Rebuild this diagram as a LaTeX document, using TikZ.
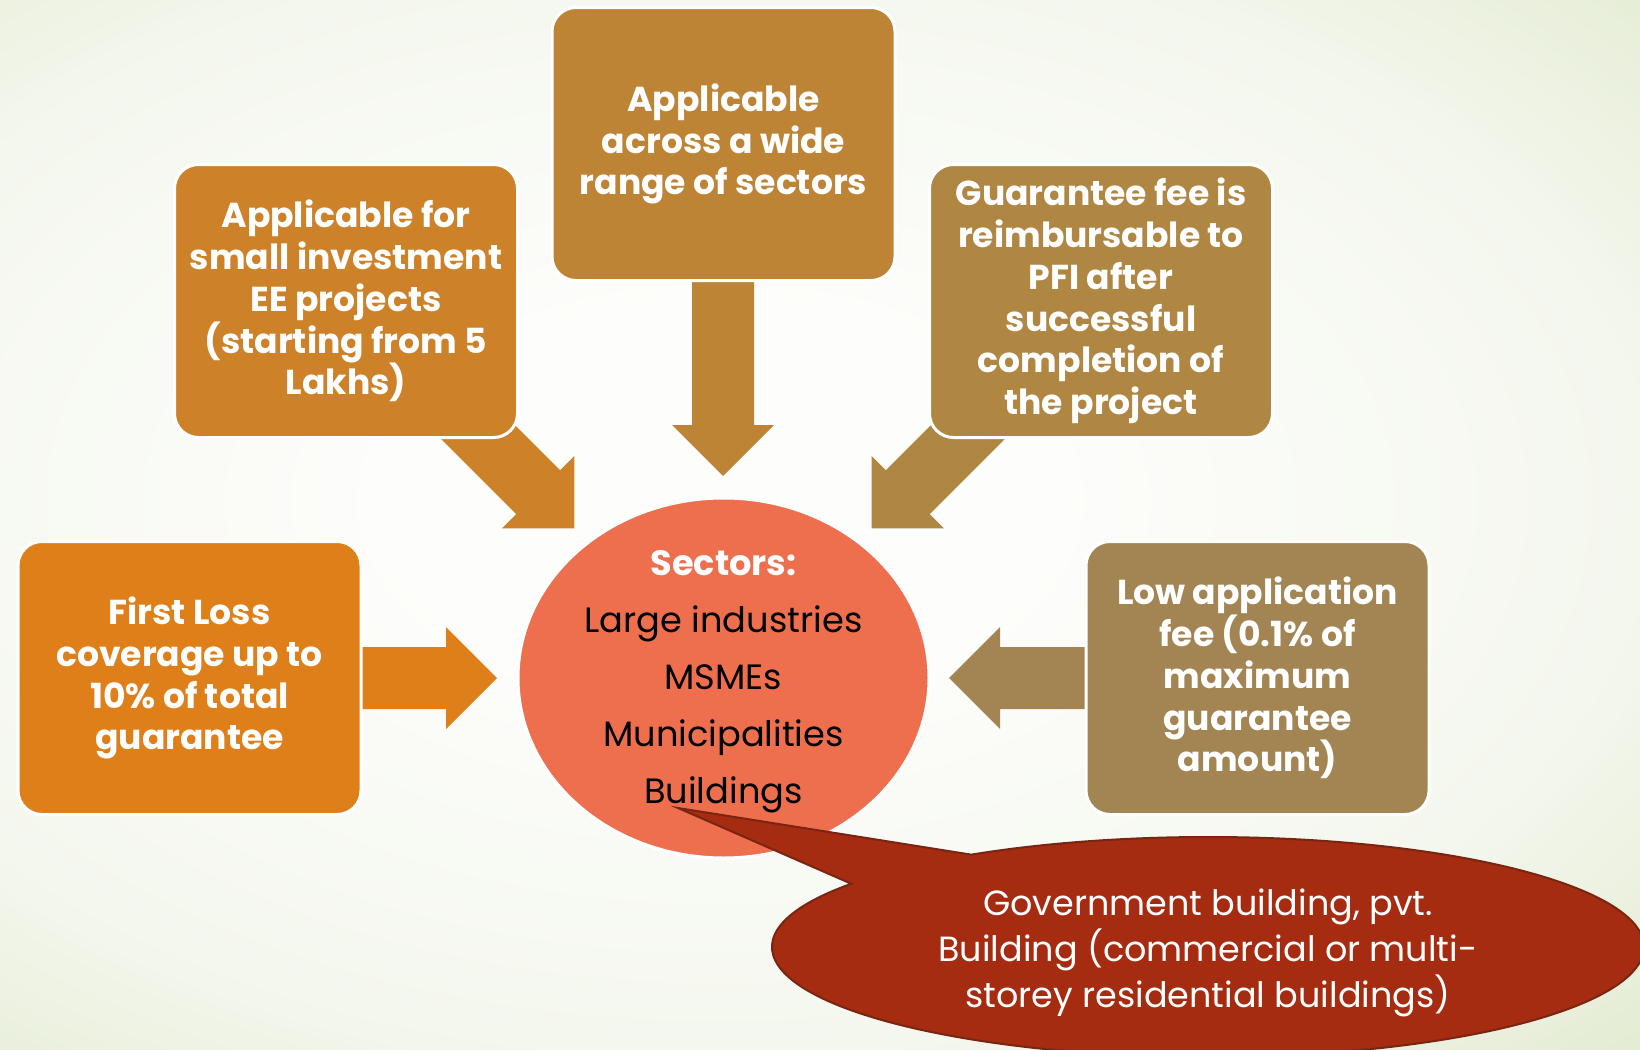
\documentclass[tikz,border=0pt]{standalone}
\usepackage{fontspec}
\setmainfont{Poppins}
\usetikzlibrary{positioning,shapes.geometric,shapes.callouts,calc}

\definecolor{bgin}{HTML}{FDFDFB}
\definecolor{bgmid}{HTML}{F4F7EE}
\definecolor{bgout}{HTML}{E3EBD1}
\definecolor{rangebrown}{HTML}{BE8436}
\definecolor{smallorange}{HTML}{CD822A}
\definecolor{pfibrown}{HTML}{B08643}
\definecolor{lossorange}{HTML}{DE7F1A}
\definecolor{feebrown}{HTML}{A28553}
\definecolor{sectorred}{HTML}{EE6F4E}
\definecolor{calloutred}{HTML}{A52C10}
\definecolor{calloutedge}{HTML}{7A2412}

\pgfdeclareradialshading{backdrop}{\pgfpoint{0bp}{0bp}}{color(0bp)=(bgin); color(9bp)=(bgin); color(25bp)=(bgmid); color(36bp)=(bgout); color(50bp)=(bgout)}

\newcommand\boxfont{\bfseries\fontsize{17.3}{20.9}\selectfont}
\newcommand\sectfont{\fontsize{17.6}{28.5}\selectfont}
\newcommand\govfont{\fontsize{17.5}{23}\selectfont}

% fat block arrow: start, angle, length, colour
\newcommand\fatarrow[4]{\fill[#4,shift={#1},rotate=#2] (0,-31) -- ({#3-51},-31) -- ({#3-51},-51) -- (#3,0) -- ({#3-51},51) -- ({#3-51},31) -- (0,31) -- cycle;}

\begin{document}
\begin{tikzpicture}[x=0.5pt,y=-0.5pt,node distance=267pt,on grid,
    infobox/.style={rectangle,rounded corners=12pt,draw=white,line width=1.5pt,
      minimum width=171.5pt,minimum height=136.5pt,align=center,text=white,font=\boxfont},
    sector/.style={ellipse,fill=sectorred,draw=white,line width=1.5pt,
      minimum width=205.5pt,minimum height=180pt,inner sep=0pt}]
  \useasboundingbox (0,0) rectangle (1640,1050);
  \clip (0,0) rectangle (1640,1050);
  \shade[shading=backdrop] (-200,-50) rectangle (1640,1050);

  % arrows first, boxes go on top
  \fatarrow{(723,270)}{-90}{206}{rangebrown}
  \fatarrow{(447,401)}{-45}{180}{smallorange}
  \fatarrow{(999,401)}{-135}{180}{pfibrown}
  \fatarrow{(340,678)}{0}{157}{lossorange}
  \fatarrow{(1100,678)}{180}{151}{feebrown}

  \node[sector] (sec) at (723.5,678) {};
  \node[infobox,fill=rangebrown] (range) [above=of sec] {Applicable\\across a wide\\range of sectors};
  \node[infobox,fill=smallorange] (small) [above left=188.5pt and 188.75pt of sec]
    {Applicable for\\small investment\\EE projects\\(starting from 5\\Lakhs)};
  \node[infobox,fill=pfibrown] (pfi) [above right=188.5pt and 188.75pt of sec]
    {Guarantee fee is\\reimbursable to\\PFI after\\successful\\completion of\\the project};
  \node[infobox,fill=lossorange] (loss) [left=of sec] {First Loss\\coverage up to\\10\% of total\\guarantee};
  \node[infobox,fill=feebrown] (fee) [right=of sec] {Low application\\fee (0.1\% of\\maximum\\guarantee\\amount)};

  \node[align=center,font=\sectfont] (secttext) at ($(sec.center)+(0,4)$)
    {\textcolor{white}{\bfseries Sectors:}\\Large industries\\MSMEs\\Municipalities\\Buildings};

  \coordinate (tip) at ($(sec.center)+(-45.5,130)$);
  \node[ellipse callout,fill=calloutred,draw=calloutedge,line width=1pt,
    minimum width=436pt,minimum height=110pt,inner sep=0pt,
    callout absolute pointer={(tip)},callout pointer arc=22] (gov) at (1208,947) {};
  \node[align=center,text=white,font=\govfont] (govtext) at ($(gov.center)+(0,6)$)
    {Government building, pvt.\\Building (commercial or multi-\\storey residential buildings)};
\end{tikzpicture}
\end{document}
